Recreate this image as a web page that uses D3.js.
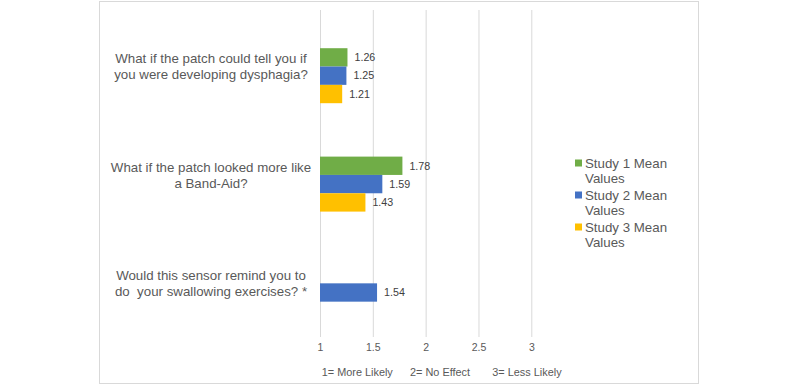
<!DOCTYPE html>
<html>
<head>
<meta charset="utf-8">
<script src="https://cdn.jsdelivr.net/npm/d3@7"></script>
<style>
  body { margin: 0; background: #fff; }
  text { font-family: "Liberation Sans", Arial, sans-serif; }
</style>
</head>
<body>
<div id="chart"></div>
<script>
// Data
const categories = ["q1", "q2", "q3"]
const categoryLines = [
  ["What if the patch could tell you if", "you were developing dysphagia?"],
  ["What if the patch looked more like", "a Band-Aid?"],
  ["Would this sensor remind you to", "do  your swallowing exercises? *"]
]
const seriesNames = ["Study 1 Mean Values", "Study 2 Mean Values", "Study 3 Mean Values"]
const study1 = [1.26, 1.78, null]
const study2 = [1.25, 1.59, 1.54]
const study3 = [1.21, 1.43, null]
const tickValues = [1, 1.5, 2, 2.5, 3]
const axisNotes = ["1= More Likely", "2= No Effect", "3= Less Likely"]

const colors = ["#70AD47", "#4472C4", "#FFC000"]
const textColor = "#595959"

// Dimensions
const width = 800, height = 385

const svg = d3.select("#chart")
  .append("svg")
  .attr("width", width)
  .attr("height", height)

// chart border
svg.append("rect")
  .attr("x", 99.5).attr("y", 1.5)
  .attr("width", 599).attr("height", 382)
  .attr("fill", "#fff")
  .attr("stroke", "#D9D9D9")

const x = d3.scaleLinear().domain([1, 3]).range([320, 531.3])

const y = d3.scaleBand()
  .domain(categories)
  .range([21.5, 346.7])

const ySeries = d3.scaleBand()
  .domain(d3.range(seriesNames.length))
  .range([0, y.bandwidth()])
  .paddingInner(0)
  .paddingOuter(1.457)

// gridlines + tick labels
const gridTop = 10, gridBottom = 337
const axis = svg.append("g")
  .attr("transform", `translate(0,${gridBottom})`)
  .call(d3.axisBottom(x)
    .tickValues(tickValues)
    .tickFormat(d3.format("~g"))
    .tickSize(-(gridBottom - gridTop))
    .tickPadding(7))
axis.select(".domain").remove()
axis.selectAll(".tick line").attr("stroke", "#D9D9D9")
axis.selectAll(".tick text")
  .attr("fill", textColor)
  .style("font-size", "10.5px")
  .style("font-family", '"Liberation Sans", Arial, sans-serif')

// bars
const allSeries = [study1, study2, study3]
const barData = []
allSeries.forEach((vals, s) => {
  vals.forEach((v, i) => {
    if (v != null) barData.push({ cat: categories[i], s, v })
  })
})

const groups = svg.append("g")
groups.selectAll("rect")
  .data(barData)
  .join("rect")
  .attr("x", x(1))
  .attr("y", d => y(d.cat) + ySeries(d.s))
  .attr("width", d => x(d.v) - x(1))
  .attr("height", ySeries.bandwidth())
  .attr("fill", d => colors[d.s])

groups.selectAll("text")
  .data(barData)
  .join("text")
  .attr("x", d => x(d.v) + 7)
  .attr("y", d => y(d.cat) + ySeries(d.s) + ySeries.bandwidth() / 2)
  .attr("dy", "0.35em")
  .attr("fill", "#404040")
  .style("font-size", "10.7px")
  .text(d => d3.format(".2f")(d.v))

// category labels
const catG = svg.append("g")
categories.forEach((c, i) => {
  const cy = y(c) + y.bandwidth() / 2
  const t = catG.append("text")
    .attr("text-anchor", "middle")
    .attr("fill", textColor)
    .attr("xml:space", "preserve")
    .style("font-size", "13.3px")
    .style("white-space", "pre")
  categoryLines[i].forEach((line, j) => {
    t.append("tspan")
      .attr("x", 211)
      .attr("y", cy - 1 - (categoryLines[i].length - 1 - j) * 16)
      .attr("dy", "0.35em")
      .text(line)
  })
})

// axis notes
const notesX = [321.7, 410, 492.3]
svg.append("g").selectAll("text")
  .data(axisNotes)
  .join("text")
  .attr("x", (d, i) => notesX[i])
  .attr("y", 372.3)
  .attr("dy", "0.35em")
  .attr("fill", textColor)
  .style("font-size", "10.9px")
  .text(d => d)

// legend
const legend = svg.append("g")
seriesNames.forEach((name, i) => {
  const ly = 163 + i * 32
  legend.append("rect")
    .attr("x", 575).attr("y", ly - 3.5)
    .attr("width", 7).attr("height", 7)
    .attr("fill", colors[i])
  const words = name.split(" ")
  const lines = [words.slice(0, 3).join(" "), words.slice(3).join(" ")]
  const t = legend.append("text")
    .attr("fill", textColor)
    .style("font-size", "13.3px")
  lines.forEach((line, j) => {
    t.append("tspan")
      .attr("x", 585)
      .attr("y", ly + j * 15.5)
      .attr("dy", "0.35em")
      .text(line)
  })
})
</script>
</body>
</html>
